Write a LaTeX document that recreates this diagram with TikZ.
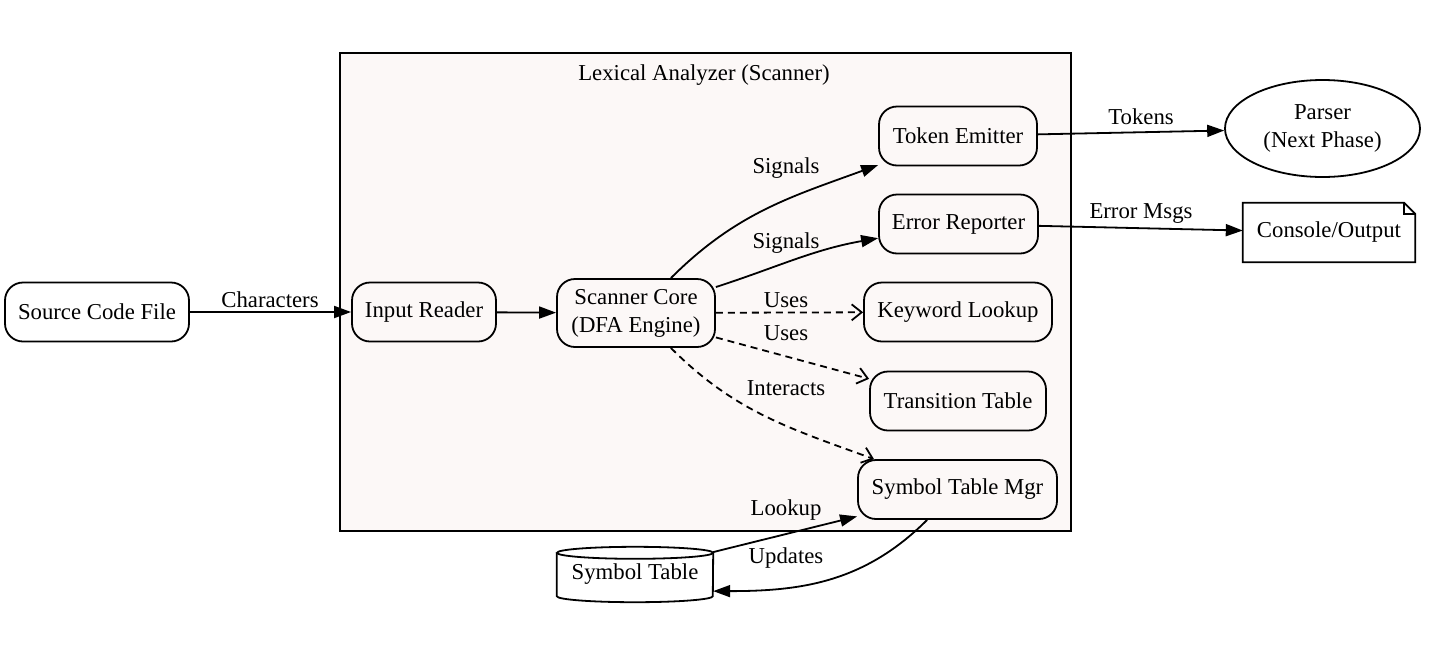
\documentclass[tikz,border=0pt]{standalone}
\usepackage{fontspec}
\setmainfont{Liberation Serif}
\usetikzlibrary{arrows.meta,shapes.geometric,calc}
\definecolor{clusterbg}{RGB}{252,248,247}
\begin{document}
\begin{tikzpicture}[x=1pt,y=-1pt,
  font=\fontsize{22.75}{28}\selectfont,
  lw/.style={line width=1.8pt},
  box/.style={draw, lw, rounded corners=18pt, minimum height=59pt, inner sep=0pt, align=center},
  lbl/.style={inner sep=0pt, anchor=center},
  solidarrow/.style={lw, -{Triangle[length=17pt,width=12pt]}},
  dasharrow/.style={lw, dash pattern=on 7pt off 5pt, -{Straight Barb[length=10pt,width=16pt,line width=1.8pt]}}
]
\useasboundingbox (0,0) rectangle (1438,646);

% cluster
\node[draw, lw, fill=clusterbg, minimum width=731pt, minimum height=478pt, inner sep=0pt] (cluster) at (705.5,292) {};
\node[lbl] (clusterlabel) at (704,75) {Lexical Analyzer (Scanner)};

% nodes
\node[box, minimum width=184pt] (src) at (97,312) {Source Code File};
\node[box, minimum width=144pt] (ir) at (424,312) {Input Reader};
\node[box, minimum width=158pt, minimum height=68pt] (sc) at (636,313) {Scanner Core\\(DFA Engine)};
\node[box, minimum width=158pt] (te) at (958,136) {Token Emitter};
\node[box, minimum width=159pt] (er) at (958.5,224) {Error Reporter};
\node[box, minimum width=188pt] (kl) at (958,312) {Keyword Lookup};
\node[box, minimum width=176pt] (tt) at (958,401) {Transition Table};
\node[box, minimum width=199pt] (stm) at (957.5,489.5) {Symbol Table Mgr};
\node[ellipse, draw, lw, minimum width=195pt, minimum height=97pt, inner sep=0pt, align=center] (parser) at (1322.5,128.5) {Parser\\(Next Phase)};
\node[minimum width=172pt, minimum height=59pt, inner sep=0pt] (con) at (1329,232.5) {Console/Output};
\node[minimum width=156pt, minimum height=55pt, inner sep=0pt] (st) at (635,574.5) {Symbol Table};

% note shape
\draw[lw, line join=miter] (con.north west) -- ($(con.north east)+(-11,0)$) -- ($(con.north east)+(0,11)$) -- (con.south east) -- (con.south west) -- cycle;
\draw[lw] ($(con.north east)+(-11,0)$) -- ($(con.north east)+(-11,11)$) -- ($(con.north east)+(0,11)$);

% cylinder shape
\draw[lw] ($(st.north west)+(0,6)$) -- ($(st.south west)+(0,-6)$) arc[start angle=180,end angle=360,x radius=78pt,y radius=6pt] -- ($(st.north east)+(0,6)$);
\draw[lw] ($(st.north)+(0,6)$) ellipse[x radius=78pt, y radius=6pt];

% edges
\draw[solidarrow] (src) -- (ir) node[lbl, at={(270,300)}] {Characters};
\draw[solidarrow] (ir) -- (sc);
\draw[solidarrow] (sc) to[out=45,in=200] (te) node[lbl, at={(786,168)}] {Signals};
\draw[solidarrow] (sc.18) to[out=18,in=190] (er.190) node[lbl, at={(786,243)}] {Signals};
\draw[dasharrow] (sc) -- (kl) node[lbl, at={(786,300)}] {Uses};
\draw[dasharrow] (sc.-17) -- (tt.166) node[lbl, at={(786,333)}] {Uses};
\draw[dasharrow] (sc) to[out=-45,in=160] (stm) node[lbl, at={(786,388)}] {Interacts};
\draw[solidarrow] (st.16) -- (stm.195) node[lbl, at={(786,510)}] {Lookup};
\draw[solidarrow] (stm) to[out=225,in=0] (st.-12) node[lbl, at={(786,558)}] {Updates};
\draw[solidarrow] (te) -- (parser) node[lbl, at={(1141,117)}] {Tokens};
\draw[solidarrow] (er) -- (con) node[lbl, at={(1141,214)}] {Error Msgs};
\end{tikzpicture}
\end{document}
